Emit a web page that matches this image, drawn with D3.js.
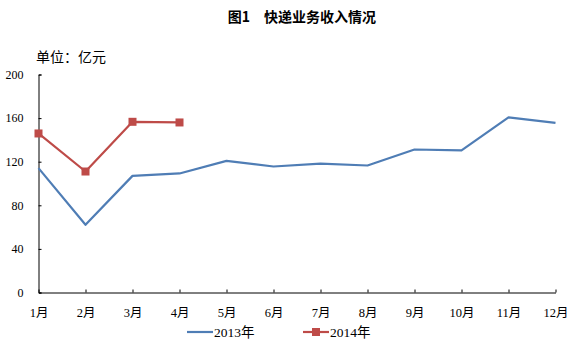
<!DOCTYPE html>
<html><head><meta charset="utf-8">
<script src="https://cdn.jsdelivr.net/npm/d3@7"></script>
<style>
body{margin:0;background:#fff;}
svg{display:block;}
</style></head>
<body>
<svg id="chart" width="580" height="356"></svg>
<script>
const months = ["1月","2月","3月","4月","5月","6月","7月","8月","9月","10月","11月","12月"];
const values2013 = [114.1, 62.1, 107.0, 109.2, 120.8, 115.6, 118.3, 116.5, 131.2, 130.3, 160.6, 155.7];
const values2014 = [145.9, 111.0, 156.6, 156.0];
const yTicks = [0, 40, 80, 120, 160, 200];
const seriesNames = ["2013年", "2014年"];
const title = "图1　快递业务收入情况";
const unitLabel = "单位：亿元";

const svg = d3.select("#chart");
const fontFam = '"Liberation Serif","Noto Sans CJK SC",serif';
const cjkFam = '"Noto Sans CJK SC","Liberation Sans",sans-serif';
const blue = "#4F7DB5", red = "#BE4B48";

const x = d3.scalePoint().domain(months).range([38.5, 555.5]);
const y = d3.scaleLinear().domain([0, 200]).range([292.5, 74.5]);

svg.append("text").attr("x", 302).attr("y", 22).attr("text-anchor", "middle")
  .attr("font-family", cjkFam).attr("font-size", 14).attr("font-weight", "bold")
  .attr("fill", "#000").text(title);
svg.append("text").attr("x", 36).attr("y", 62)
  .attr("font-family", cjkFam).attr("font-size", 14).attr("fill", "#000").text(unitLabel);

const yAxis = d3.axisRight(y).tickValues(yTicks).tickSize(3).tickFormat(d3.format("d"));
const gy = svg.append("g").attr("transform", "translate(38.5,0)").call(yAxis);
gy.select(".domain").attr("stroke", "#000");
gy.selectAll(".tick line").attr("stroke", "#000");
gy.selectAll(".tick text").attr("x", -15).attr("text-anchor", "end")
  .attr("font-family", fontFam).attr("font-size", 12).attr("fill", "#000");

const xAxis = d3.axisTop(x).tickSize(3).tickSizeOuter(0);
const gx = svg.append("g").attr("transform", "translate(0,292.5)").call(xAxis);
gx.select(".domain").attr("stroke", "#000");
gx.selectAll(".tick line").attr("stroke", "#000");
gx.selectAll(".tick text").attr("y", 20).attr("dy", "0.32em")
  .attr("font-family", fontFam).attr("font-size", 12.5).attr("fill", "#000");

const line = d3.line().x((d, i) => x(months[i])).y(d => y(d));

svg.append("path").datum(values2013).attr("d", line)
  .attr("fill", "none").attr("stroke", blue).attr("stroke-width", 2.2).attr("stroke-linejoin", "round");
svg.append("path").datum(values2014).attr("d", line)
  .attr("fill", "none").attr("stroke", red).attr("stroke-width", 2.2).attr("stroke-linejoin", "round");
svg.selectAll(".m14").data(values2014).enter().append("rect")
  .attr("x", (d, i) => x(months[i]) - 4).attr("y", d => y(d) - 4)
  .attr("width", 8).attr("height", 8).attr("fill", red);

// legend
const lg = svg.append("g");
const legendItems = [
  {name: seriesNames[0], color: blue, marker: false, x: 187},
  {name: seriesNames[1], color: red, marker: true, x: 303}
];
legendItems.forEach(it => {
  lg.append("line").attr("x1", it.x).attr("x2", it.x + 26).attr("y1", 332).attr("y2", 332)
    .attr("stroke", it.color).attr("stroke-width", 2.2);
  if (it.marker) lg.append("rect").attr("x", it.x + 9).attr("y", 328).attr("width", 8).attr("height", 8).attr("fill", it.color);
  lg.append("text").attr("x", it.x + 27).attr("y", 332).attr("dy", "0.35em")
    .attr("font-family", fontFam).attr("font-size", 13.5).attr("fill", "#000").text(it.name);
});
</script>
</body></html>
